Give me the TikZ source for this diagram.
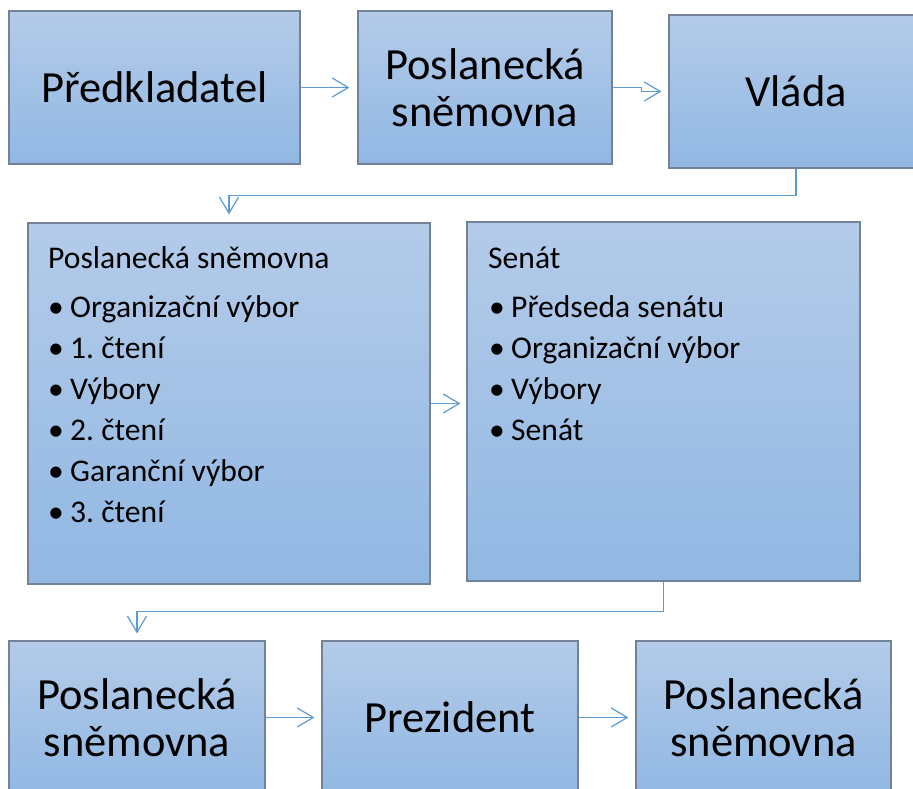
\documentclass[tikz,border=0pt]{standalone}
\usepackage{fontspec}
\setmainfont{Carlito}
\usetikzlibrary{arrows.meta}
\frenchspacing

\definecolor{boxtop}{RGB}{180,203,233}
\definecolor{boxbot}{RGB}{145,184,227}
\definecolor{boxline}{RGB}{115,130,150}
\definecolor{arrowblue}{RGB}{91,155,213}

\tikzset{
  stage/.style={rectangle, draw=boxline, line width=1.2pt, top color=boxtop, bottom color=boxbot,
                minimum height=153pt, align=center, inner sep=0pt,
                font=\fontsize{44.5}{47}\selectfont},
  listbox/.style={rectangle, draw=boxline, line width=1.2pt, top color=boxtop, bottom color=boxbot, inner sep=0pt},
  head/.style={anchor=base west, inner sep=0pt, font=\fontsize{31.6}{41}\selectfont},
  item/.style={anchor=base west, inner sep=0pt, font=\fontsize{31.6}{41}\selectfont},
  flow/.style={draw=arrowblue, line width=1.2pt, -{Straight Barb[length=16pt, width=19pt, line width=1.2pt]}}
}

\begin{document}
\begin{tikzpicture}[x=1pt, y=-1pt]
        \useasboundingbox (0,0) rectangle (913,789);
        \clip (0,0) rectangle (913,789);

        % first row
        \node[stage, minimum width=291pt] (pred) at (154.5,87.5) {Předkladatel};
        \node[stage, minimum width=254pt] (ps1) at (485,87.5) {Poslanecká\\sněmovna};
        \node[stage, minimum width=254pt] (vlada) at (796,91.5) {Vláda};

        % second row
        \node[listbox, minimum width=402pt, minimum height=361pt] (ps2) at (229,403.5) {};
        \node[listbox, minimum width=393pt, minimum height=359pt] (senat) at (663.5,401.5) {};

        \node[head] (pstitle) at (48,268) {Poslanecká sněmovna};
        \foreach \txt [count=\i] in {Organizační výbor, 1. čtení, Výbory, 2. čtení, Garanční výbor, 3. čtení}
                \node[item] (psitem\i) at (48,276+41*\i) {\makebox[22pt][l]{•}\txt};

        \node[head] (sentitle) at (488,268) {Senát};
        \foreach \txt [count=\i] in {Předseda senátu, Organizační výbor, Výbory, Senát}
                \node[item] (senitem\i) at (489,276+41*\i) {\makebox[22pt][l]{•}\txt};

        % third row
        \node[stage, minimum width=256pt] (ps3) at (137,717.5) {Poslanecká\\sněmovna};
        \node[stage, minimum width=256pt] (prez) at (450,717.5) {Prezident};
        \node[stage, minimum width=255pt] (ps4) at (763.5,717.5) {Poslanecká\\sněmovna};

        % connectors
        \draw[flow, shorten >=8pt] (pred) -- (ps1);
        \draw[flow, shorten >=7pt] (ps1.east) -- ++(29,0) |- (vlada.west);
        \draw[flow, shorten >=8pt] (vlada.south) -- ++(0,27) -| (ps2.north);
        \draw[flow, shorten >=6pt] (ps2.east) -- (ps2.east -| senat.west);
        \draw[flow, shorten >=7pt] (senat.south) -- ++(0,30) -| (ps3.north);
        \draw[flow, shorten >=7pt] (ps3) -- (prez);
        \draw[flow, shorten >=7pt] (prez) -- (ps4);
\end{tikzpicture}
\end{document}
